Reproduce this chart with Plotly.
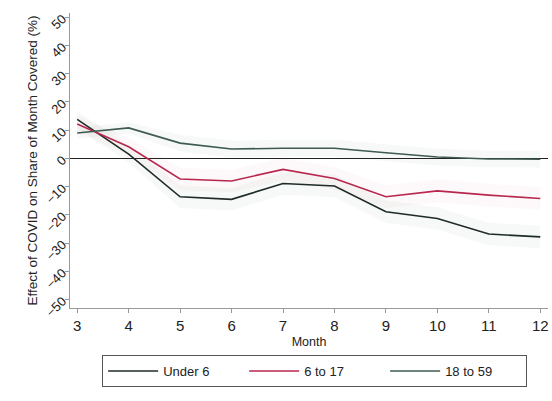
import plotly.graph_objects as go

months = [3, 4, 5, 6, 7, 8, 9, 10, 11, 12]
under6 = [13.8, 1.5, -13.6, -14.5, -8.9, -9.8, -18.9, -21.3, -26.8, -27.8]
age6_17 = [12.2, 4.1, -7.3, -8.0, -3.9, -7.1, -13.6, -11.5, -13.0, -14.2]
age18_59 = [9.0, 10.8, 5.4, 3.3, 3.6, 3.6, 2.0, 0.5, -0.2, -0.3]

# estimated half-widths of the faint confidence bands
hw_under6 = [3, 3, 4, 4, 4, 4, 4, 4, 4, 4]
hw_6_17 = [3, 3, 4, 4, 4, 4, 4, 4, 4, 4]
hw_18_59 = [2, 2, 3, 3, 3, 3, 3, 3, 3, 3]

ytick_vals = [50, 40, 30, 20, 10, 0, -10, -20, -30, -40, -50]

series = [
    ("Under 6", under6, hw_under6, "#1f2b29", "rgba(60,90,80,0.04)"),
    ("6 to 17", age6_17, hw_6_17, "#b8284e", "rgba(200,60,90,0.035)"),
    ("18 to 59", age18_59, hw_18_59, "#3e5b52", "rgba(60,100,90,0.04)"),
]

fig = go.Figure()
for name, vals, hw, col, fill in series:
    upper = [v + h for v, h in zip(vals, hw)]
    lower = [v - h for v, h in zip(vals, hw)]
    fig.add_trace(go.Scatter(x=months + months[::-1], y=upper + lower[::-1],
                             fill="toself", fillcolor=fill, line=dict(width=0),
                             hoverinfo="skip", showlegend=False))
for name, vals, hw, col, fill in series:
    fig.add_trace(go.Scatter(x=months, y=vals, mode="lines", name=name,
                             line=dict(color=col, width=1.6)))

fig.update_layout(
    width=552, height=401,
    margin=dict(l=70, r=4, t=13, b=93, autoexpand=False),
    paper_bgcolor="white", plot_bgcolor="white",
    font=dict(family="Liberation Sans, Arial, sans-serif", color="#222"),
    legend=dict(orientation="h", x=0.57, xref="container", xanchor="center",
                y=1 - 355 / 401, yref="container", yanchor="top",
                bordercolor="#555", borderwidth=1, font=dict(size=13),
                itemwidth=50, entrywidth=76, tracegroupgap=0),
    xaxis=dict(range=[2.86, 12.15], tickvals=months, ticks="outside", ticklen=4,
               tickcolor="#999", showline=True, linecolor="#999", showgrid=False,
               zeroline=False, tickfont=dict(size=15),
               title=dict(text="Month", font=dict(size=12.5), standoff=4)),
    yaxis=dict(range=[-53, 51.5], tickvals=ytick_vals, ticks="outside", ticklen=4,
               tickcolor="#999", showline=True, linecolor="#999", showgrid=False,
               zeroline=True, zerolinecolor="#222", zerolinewidth=1,
               tickangle=-45, tickfont=dict(size=13),
               title=dict(text="Effect of COVID on Share of Month Covered (%)",
                          font=dict(size=13.5), standoff=2)),
)

fig.write_html("out.html")
